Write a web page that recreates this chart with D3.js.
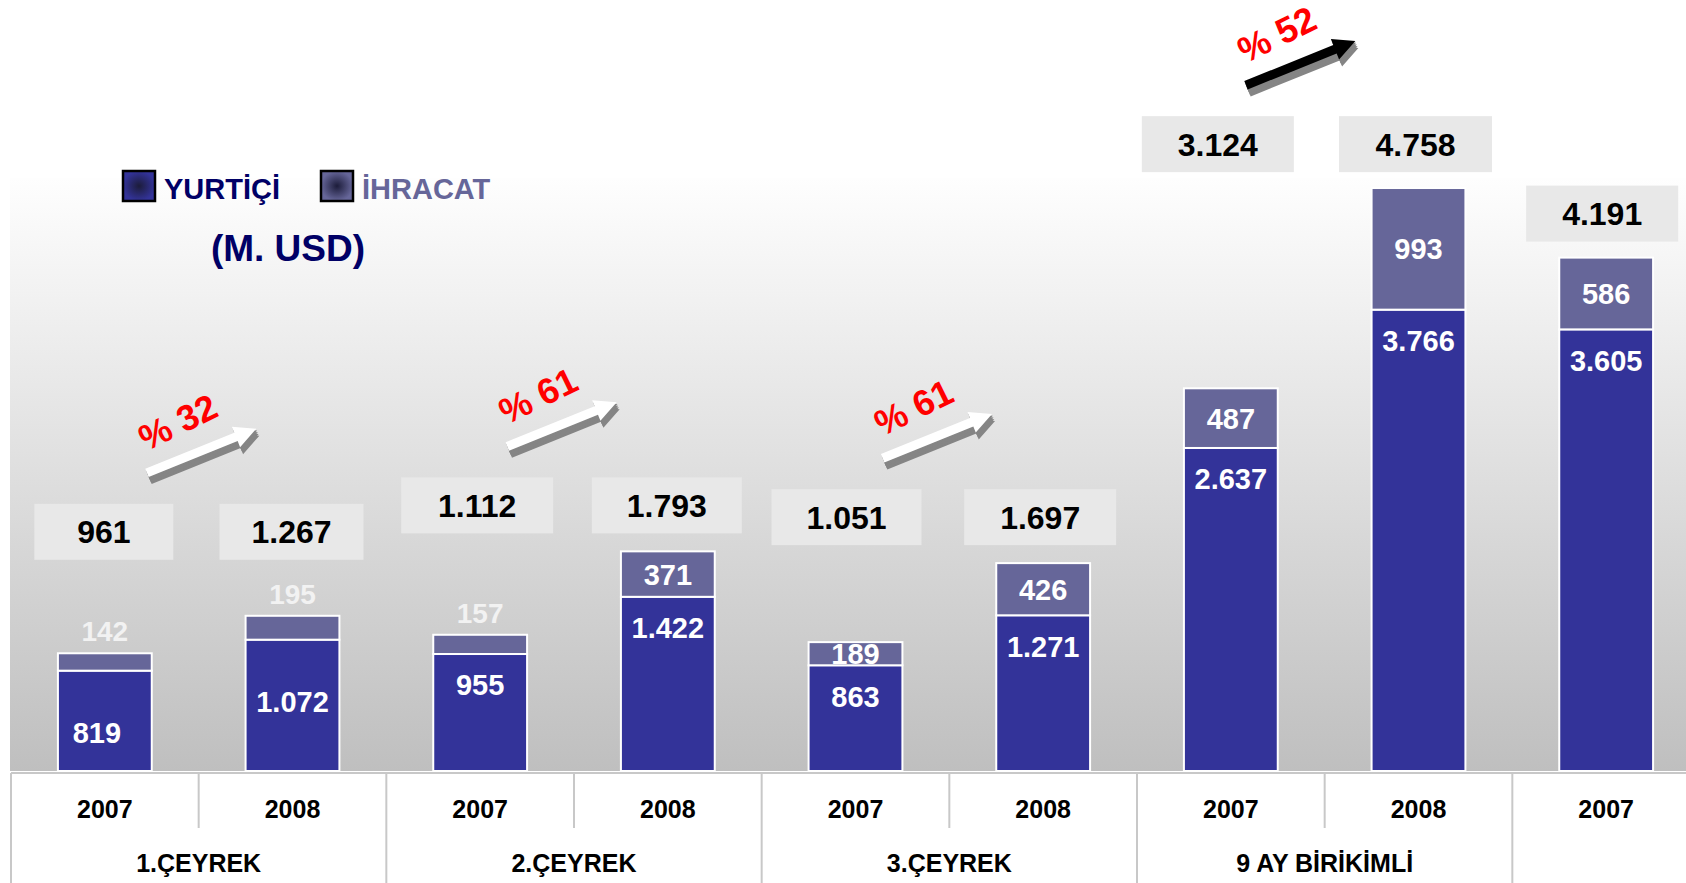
<!DOCTYPE html>
<html>
<head>
<meta charset="utf-8">
<script src="https://cdn.jsdelivr.net/npm/d3@7"></script>
<style>
  html, body { margin: 0; padding: 0; background: #fff; overflow: hidden; }
  svg text { font-family: 'Liberation Sans', Arial, sans-serif; font-weight: bold; }
</style>
</head>
<body>
<div id="chart"></div>
<script>
// values in million USD
const years = ['2007', '2008', '2007', '2008', '2007', '2008', '2007', '2008', '2007'];
const groups = ['1.ÇEYREK', '2.ÇEYREK', '3.ÇEYREK', '9 AY BİRİKİMLİ'];
const yurtici = [819, 1072, 955, 1422, 863, 1271, 2637, 3766, 3605];
const ihracat = [142, 195, 157, 371, 189, 426, 487, 993, 586];
const totals = [961, 1267, 1112, 1793, 1051, 1697, 3124, 4758, 4191];
const growth = [32, 61, 61, 52];
const seriesNames = ['YURTİÇİ', 'İHRACAT'];

// layout tweaks for the annotations
const slotGroup = [0, 0, 1, 1, 2, 2, 3, 3, 4];
const boxGap = [56, 18, 18, 16, 16];
const boxDx = [-1, -1, -3, -1, -9, -3, -13, -3, -4];
const boxW = [139, 144, 152, 150, 150, 152, 152, 153, 152];
const innerDy = [62, 62, 31, 31, 31, 31, 31, 31, 31];
const exportAbove = [true, true, true, false, false, false, false, false, false];
const arrowDx = [3, -12, -12, -24];

const width = 1686;
const height = 883;
const base = 771;

const fmt = d3.formatLocale({ decimal: ',', thousands: '.', grouping: [3], currency: ['', ''] }).format(',d');

const svg = d3.select('#chart')
  .append('svg')
  .attr('width', width)
  .attr('height', height);

const defs = svg.append('defs');
const bg = defs.append('linearGradient')
  .attr('id', 'bg').attr('x1', 0).attr('y1', 0).attr('x2', 0).attr('y2', 1);
bg.append('stop').attr('offset', '0%').attr('stop-color', '#fefefe');
bg.append('stop').attr('offset', '100%').attr('stop-color', '#bfbfbf');

const colors = ['#333399', '#666699'];
colors.forEach((c, i) => {
  const g = defs.append('radialGradient').attr('id', 'leg' + i);
  g.append('stop').attr('offset', '0%').attr('stop-color', '#1c1c3a');
  g.append('stop').attr('offset', '100%').attr('stop-color', c);
});

svg.append('rect')
  .attr('x', 10).attr('y', 178)
  .attr('width', width - 10).attr('height', base - 178)
  .attr('fill', 'url(#bg)');

const x = d3.scaleBand()
  .domain(d3.range(years.length))
  .range([11, 1700])
  .paddingInner(0.5)
  .paddingOuter(0.25);

const y = d3.scaleLinear()
  .domain([0, 5000])
  .range([base, 158.5]);

const step = x.step();
const slotStart = i => x(i) - step * 0.25;

// stacked bars
const rows = years.map((yr, i) => ({ i, yurtici: yurtici[i], ihracat: ihracat[i] }));
const stacked = d3.stack().keys(['yurtici', 'ihracat'])(rows);

svg.append('g')
  .selectAll('g')
  .data(stacked)
  .enter().append('g')
  .attr('fill', (d, k) => colors[k])
  .selectAll('rect')
  .data(d => d)
  .enter().append('rect')
  .attr('x', d => x(d.data.i))
  .attr('y', d => y(d[1]))
  .attr('width', x.bandwidth())
  .attr('height', d => y(d[0]) - y(d[1]))
  .attr('stroke', '#fff')
  .attr('stroke-width', 2);

// segment labels
const labels = svg.append('g').attr('text-anchor', 'middle').attr('font-size', 29);

labels.selectAll('.dom')
  .data(rows)
  .enter().append('text')
  .attr('x', d => x(d.i) + x.bandwidth() / 2 - (d.i === 0 ? 8 : 0))
  .attr('y', d => y(d.yurtici) + innerDy[d.i])
  .attr('dy', '0.36em')
  .attr('fill', '#fff')
  .text(d => fmt(d.yurtici));

labels.selectAll('.exp')
  .data(rows)
  .enter().append('text')
  .attr('x', d => x(d.i) + x.bandwidth() / 2)
  .attr('y', d => exportAbove[d.i]
    ? y(d.yurtici + d.ihracat) - 22
    : (y(d.yurtici) + y(d.yurtici + d.ihracat)) / 2)
  .attr('dy', '0.36em')
  .attr('fill', d => exportAbove[d.i] ? '#f2f2f2' : '#fff')
  .attr('font-size', d => exportAbove[d.i] ? 28 : 29)
  .text(d => fmt(d.ihracat));

// total boxes
const groupMax = d3.range(boxGap.length).map(g =>
  d3.max(totals.filter((t, i) => slotGroup[i] === g)));
const boxTop = g => y(groupMax[g]) - boxGap[g] - 56;

const boxes = svg.append('g');
totals.forEach((t, i) => {
  const cx = x(i) + x.bandwidth() / 2 + boxDx[i];
  const top = boxTop(slotGroup[i]);
  boxes.append('rect')
    .attr('x', cx - boxW[i] / 2).attr('y', top)
    .attr('width', boxW[i]).attr('height', 56)
    .attr('fill', '#e8e8e8');
  boxes.append('text')
    .attr('x', cx).attr('y', top + 28)
    .attr('dy', '0.36em')
    .attr('text-anchor', 'middle')
    .attr('font-size', 32)
    .attr('fill', '#000')
    .text(fmt(t));
});

// growth arrows
function arrowPath(L) {
  const h = 4.5, H = 11, hl = 22;
  return d3.line()([[-L / 2, -h], [L / 2 - hl, -h], [L / 2 - hl, -H], [L / 2, 0],
    [L / 2 - hl, H], [L / 2 - hl, h], [-L / 2, h]]) + 'Z';
}
growth.forEach((p, g) => {
  const cx = slotStart(2 * g + 1) + arrowDx[g];
  const cy = boxTop(g) - 53;
  const fill = g === 3 ? '#000' : '#fff';
  [1, 0.75, 0.5, 0.25].forEach(t => {
    svg.append('path')
      .attr('d', arrowPath(118))
      .attr('transform', `translate(${cx + 3 * t},${cy + 7 * t}) rotate(-22)`)
      .attr('fill', '#858585');
  });
  svg.append('path')
    .attr('d', arrowPath(118))
    .attr('transform', `translate(${cx},${cy}) rotate(-22)`)
    .attr('fill', fill);
  svg.append('text')
    .attr('transform', `translate(${cx - 24},${cy - 29}) rotate(-26)`)
    .attr('dy', '0.36em')
    .attr('text-anchor', 'middle')
    .attr('font-size', 36)
    .attr('fill', '#ff0000')
    .text('% ' + p);
});

// legend
const legend = svg.append('g');
[[122, '#000066'], [320, '#666699']].forEach(([lx, tc], k) => {
  legend.append('rect')
    .attr('x', lx + 1).attr('y', 171)
    .attr('width', 32).attr('height', 30)
    .attr('fill', `url(#leg${k})`)
    .attr('stroke', '#000').attr('stroke-width', 2.5);
  legend.append('text')
    .attr('x', lx + 42).attr('y', 199)
    .attr('font-size', 29)
    .attr('fill', tc)
    .text(seriesNames[k]);
});
legend.append('text')
  .attr('x', 288).attr('y', 261)
  .attr('text-anchor', 'middle')
  .attr('font-size', 37)
  .attr('fill', '#000066')
  .text('(M. USD)');

// category table
const table = svg.append('g');
table.append('rect')
  .attr('x', 11).attr('y', 773)
  .attr('width', width - 11).attr('height', height - 773)
  .attr('fill', '#fff');
table.append('line')
  .attr('x1', 11).attr('x2', width)
  .attr('y1', 773).attr('y2', 773)
  .attr('stroke', '#c8c8c8').attr('stroke-width', 2);

d3.range(years.length).forEach(i => {
  const sx = slotStart(i);
  const isGroup = i % 2 === 0;
  table.append('line')
    .attr('x1', sx).attr('x2', sx)
    .attr('y1', 773).attr('y2', isGroup ? height : 828)
    .attr('stroke', '#c8c8c8').attr('stroke-width', 2);
  table.append('text')
    .attr('x', x(i) + x.bandwidth() / 2)
    .attr('y', 809)
    .attr('dy', '0.36em')
    .attr('text-anchor', 'middle')
    .attr('font-size', 25)
    .attr('fill', '#000')
    .text(years[i]);
});

groups.forEach((name, g) => {
  table.append('text')
    .attr('x', (slotStart(2 * g) + slotStart(2 * g + 2)) / 2)
    .attr('y', 863)
    .attr('dy', '0.36em')
    .attr('text-anchor', 'middle')
    .attr('font-size', 25)
    .attr('fill', '#000')
    .text(name);
});
</script>
</body>
</html>
